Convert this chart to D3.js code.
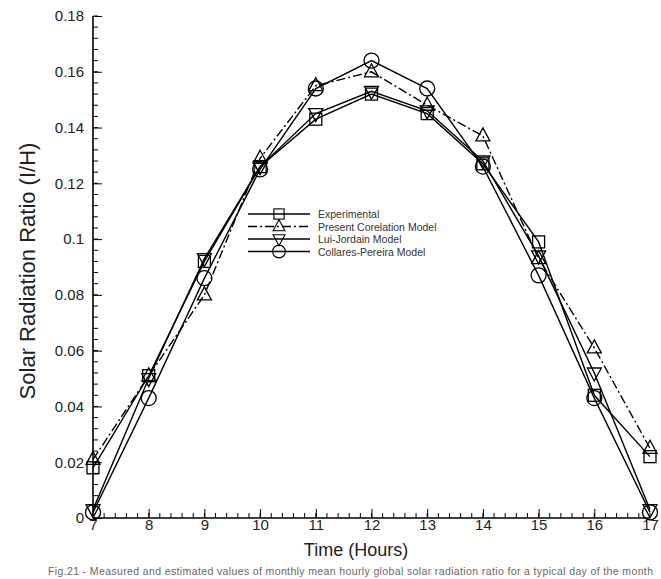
<!DOCTYPE html>
<html>
<head>
<meta charset="utf-8">
<script src="https://cdn.jsdelivr.net/npm/d3@7"></script>
<style>
  body { margin: 0; background: #fff; }
  svg { font-family: Arial, "Liberation Sans", sans-serif; }
</style>
</head>
<body>
<div id="chart"></div>
<script>
// hours on the x axis
var hours = [7, 8, 9, 10, 11, 12, 13, 14, 15, 16, 17];

// series values
var experimental = [0.018, 0.051, 0.092, 0.126, 0.143, 0.152, 0.145, 0.127, 0.099, 0.044, 0.022];
var presentCorrelation = [0.021, 0.051, 0.080, 0.129, 0.155, 0.160, 0.148, 0.137, 0.093, 0.061, 0.025];
var luiJordain = [0.003, 0.050, 0.093, 0.126, 0.145, 0.153, 0.146, 0.128, 0.094, 0.052, 0.003];
var collaresPereira = [0.002, 0.043, 0.086, 0.125, 0.154, 0.164, 0.154, 0.126, 0.087, 0.043, 0.002];

var seriesNames = ["Experimental", "Present Corelation Model", "Lui-Jordain Model", "Collares-Pereira Model"];
var yTicks = [0, 0.02, 0.04, 0.06, 0.08, 0.1, 0.12, 0.14, 0.16, 0.18];

var width = 661, height = 579;
var margin = {top: 16, right: 11, bottom: 61, left: 93};

var svg = d3.select("#chart")
    .append("svg")
    .attr("width", width)
    .attr("height", height);

var x = d3.scaleLinear().domain([7, 17]).range([margin.left, width - margin.right]);
var y = d3.scaleLinear().domain([0, 0.18]).range([height - margin.bottom, margin.top]);

// minor ticks (inside)
var xMinor = d3.range(7, 17.001, 0.2);
var yMinor = d3.range(0, 0.1801, 0.004);

var xAxis = d3.axisBottom(x).tickValues(hours).tickSize(-9).tickPadding(1).tickFormat(d3.format("d"));
var yAxis = d3.axisLeft(y).tickValues(yTicks).tickSize(-9).tickPadding(9)
    .tickFormat(function (d) { return d === 0 ? "0" : (d === 0.1 ? "0.1" : d3.format(".2f")(d)); });

var gx = svg.append("g")
    .attr("transform", "translate(0," + y(0) + ")")
    .call(xAxis);
gx.selectAll(".tick")
    .filter(function (d) { return d === 7 || d === 17; })
    .select("line").remove();
gx.append("g").selectAll("line")
    .data(xMinor)
    .enter().append("line")
    .attr("x1", function (d) { return x(d); })
    .attr("x2", function (d) { return x(d); })
    .attr("y1", 0).attr("y2", -5)
    .attr("stroke", "#000");

var gy = svg.append("g")
    .attr("transform", "translate(" + x(7) + ",0)")
    .call(yAxis);
gy.append("g").selectAll("line")
    .data(yMinor)
    .enter().append("line")
    .attr("y1", function (d) { return y(d); })
    .attr("y2", function (d) { return y(d); })
    .attr("x1", 0).attr("x2", 5)
    .attr("stroke", "#000");

[gx, gy].forEach(function (g) {
    g.select(".domain").attr("stroke", "#000").attr("stroke-width", 1.6);
    g.selectAll(".tick line").attr("stroke", "#000");
    g.selectAll(".tick text").attr("font-size", "15px").attr("fill", "#222");
});
gx.selectAll(".domain").attr("d", "M" + x(7) + ",0H" + x(17));
gy.selectAll(".domain").attr("d", "M0," + y(0) + "V" + y(0.18));

// axis titles
svg.append("text")
    .attr("x", 356)
    .attr("y", height - 23)
    .attr("text-anchor", "middle")
    .attr("font-size", "18px")
    .attr("fill", "#222")
    .text("Time (Hours)");

svg.append("text")
    .attr("transform", "translate(35,271) rotate(-90)")
    .attr("text-anchor", "middle")
    .attr("font-size", "22px")
    .attr("fill", "#222")
    .text("Solar Radiation Ratio (I/H)");

svg.append("text")
    .attr("x", 48)
    .attr("y", height - 4)
    .attr("font-size", "10.5px")
    .attr("fill", "#666")
    .attr("textLength", 605)
    .attr("lengthAdjust", "spacing")
    .text("Fig.21 - Measured and estimated values of monthly mean hourly global solar radiation ratio for a typical day of the month");

// series
var series = [
    {name: seriesNames[0], values: experimental, dash: null, symbol: "square"},
    {name: seriesNames[1], values: presentCorrelation, dash: "9,3,2,3", symbol: "triangle"},
    {name: seriesNames[2], values: luiJordain, dash: null, symbol: "down"},
    {name: seriesNames[3], values: collaresPereira, dash: null, symbol: "circle"}
];

function marker(g, type) {
    if (type === "square") {
        g.append("rect").attr("x", -6).attr("y", -6).attr("width", 12).attr("height", 12);
    } else if (type === "triangle") {
        g.append("path").attr("d", "M0,-8L7,5L-7,5Z");
    } else if (type === "down") {
        g.append("path").attr("d", "M0,8L7,-5L-7,-5Z");
    } else {
        g.append("circle").attr("r", 7.5);
    }
    g.selectAll("*").attr("fill", "none").attr("stroke", "#000").attr("stroke-width", 1.3);
}

var line = d3.line()
    .x(function (d, i) { return x(hours[i]); })
    .y(function (d) { return y(d); });

series.forEach(function (s) {
    svg.append("path")
        .datum(s.values)
        .attr("d", line)
        .attr("fill", "none")
        .attr("stroke", "#000")
        .attr("stroke-width", 1.4)
        .attr("stroke-dasharray", s.dash);
    s.values.forEach(function (v, i) {
        var g = svg.append("g").attr("transform", "translate(" + x(hours[i]) + "," + y(v) + ")");
        marker(g, s.symbol);
    });
});

// legend
var legend = svg.append("g").attr("transform", "translate(248,214)");
series.forEach(function (s, i) {
    var row = legend.append("g").attr("transform", "translate(0," + (i * 12.5) + ")");
    row.append("line")
        .attr("x1", 0).attr("x2", 62)
        .attr("stroke", "#000").attr("stroke-width", 1.4)
        .attr("stroke-dasharray", s.dash);
    var m = row.append("g").attr("transform", "translate(31,0) scale(0.85)");
    marker(m, s.symbol);
    row.append("text")
        .attr("x", 70)
        .attr("y", 4)
        .attr("font-size", "10.5px")
        .attr("fill", "#333")
        .text(s.name);
});
</script>
</body>
</html>
